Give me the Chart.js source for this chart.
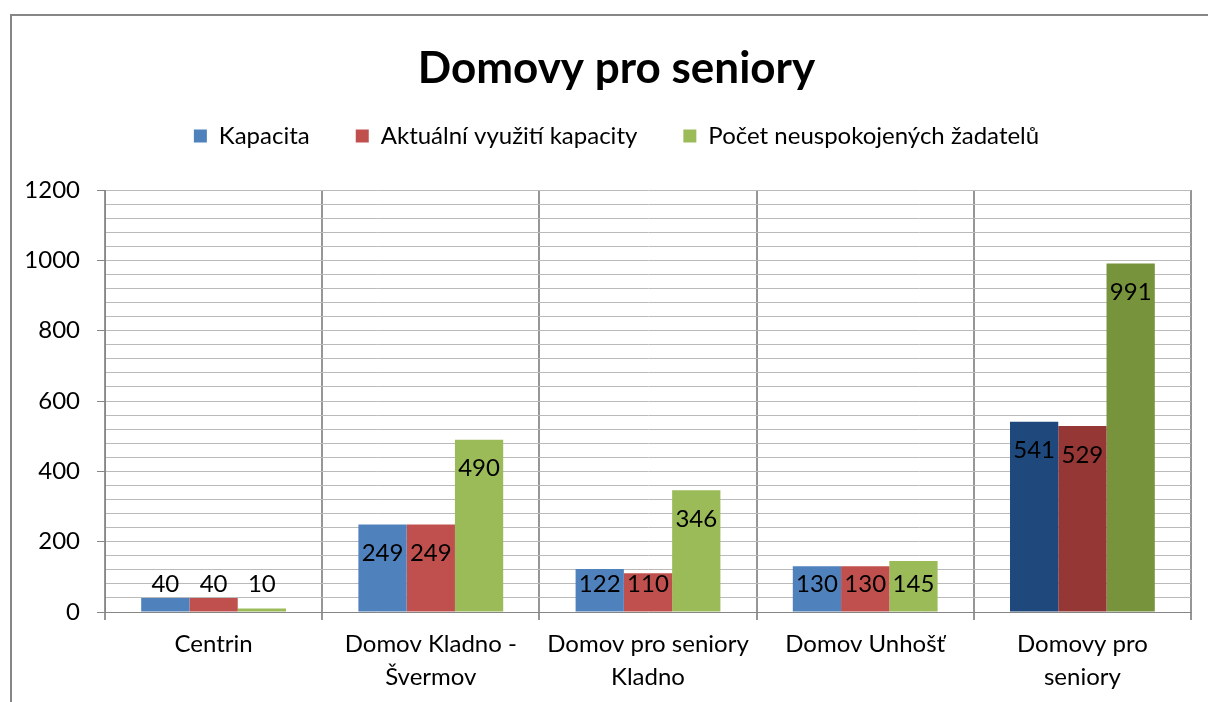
<!DOCTYPE html>
<html>
<head>
<meta charset="utf-8">
<script src="https://cdn.jsdelivr.net/npm/chart.js@4/dist/chart.umd.min.js"></script>
<style>
  html, body { margin: 0; padding: 0; background: #ffffff; }
  #wrap { position: relative; width: 1208px; height: 702px; }
</style>
</head>
<body>
<div id="wrap"><canvas id="c" width="1208" height="702"></canvas></div>
<script>
const chartTitle = "Domovy pro seniory";
const categories = [
  ["Centrin"],
  ["Domov Kladno -", "Švermov"],
  ["Domov pro seniory", "Kladno"],
  ["Domov Unhošť"],
  ["Domovy pro", "seniory"]
];
const seriesNames = ["Kapacita", "Aktuální využití kapacity", "Počet neuspokojených žadatelů"];
const kapacita = [40, 249, 122, 130, 541];
const vyuziti = [40, 249, 110, 130, 529];
const neuspokojeni = [10, 490, 346, 145, 991];
const yMin = 0;
const yMax = 1200;
const yMajorStep = 200;
const yMinorStep = 40;

const baseColors = ["#4F81BD", "#C0504D", "#9BBB59"];
const darkColors = ["#1F497D", "#953735", "#77933C"];
const totalIndex = 4;

const FONT = "Lato, 'Open Sans', sans-serif";

function colorFor(i) {
  return ctx => (ctx.dataIndex === totalIndex ? darkColors[i] : baseColors[i]);
}

const frame = {
  id: 'frame',
  beforeDraw(chart) {
    const c = chart.ctx;
    c.save();
    c.strokeStyle = '#868686';
    c.lineWidth = 2;
    c.beginPath();
    c.moveTo(11, 710);
    c.lineTo(11, 15);
    c.lineTo(1215, 15);
    c.stroke();
    c.restore();
  }
};

const legendSpacer = {
  id: 'legendSpacer',
  beforeInit(chart) {
    const lg = chart.legend;
    if (!lg) return;
    const orig = lg.fit;
    lg.fit = function () { orig.call(this); this.height = 112; };
  },
  afterLayout(chart) {
    const shift = 21;
    [chart.titleBlock, chart.legend].forEach(b => {
      if (b) { b.left += shift; b.right += shift; }
    });
  }
};

const valueLabels = {
  id: 'valueLabels',
  afterDatasetsDraw(chart) {
    const c = chart.ctx;
    c.save();
    c.font = "24px " + FONT;
    c.fillStyle = '#000';
    c.textAlign = 'center';
    c.textBaseline = 'middle';
    chart.data.datasets.forEach((ds, di) => {
      const meta = chart.getDatasetMeta(di);
      meta.data.forEach((bar, i) => {
        const y = Math.min(bar.y + 29, bar.base - 27);
        c.fillText(String(ds.data[i]), bar.x, y);
      });
    });
    c.restore();
  }
};

new Chart(document.getElementById('c'), {
  type: 'bar',
  data: {
    labels: categories,
    datasets: [
      { label: seriesNames[0], data: kapacita, backgroundColor: colorFor(0) },
      { label: seriesNames[1], data: vyuziti, backgroundColor: colorFor(1) },
      { label: seriesNames[2], data: neuspokojeni, backgroundColor: colorFor(2) }
    ]
  },
  options: {
    responsive: false,
    animation: false,
    devicePixelRatio: 1,
    layout: { padding: { top: 14, left: 0, right: 17, bottom: 0 } },
    datasets: { bar: { barPercentage: 1, categoryPercentage: 0.6667, borderWidth: 0 } },
    plugins: {
      title: {
        display: true,
        text: chartTitle,
        color: '#000',
        font: { family: FONT, size: 44, weight: 'bold', lineHeight: 1.0 },
        padding: { top: 33, bottom: -13 }
      },
      legend: {
        display: true,
        position: 'top',
        labels: {
          color: '#000',
          font: { family: FONT, size: 24 },
          boxWidth: 13,
          boxHeight: 13,
          padding: 46
        }
      },
      tooltip: { enabled: false }
    },
    scales: {
      x: {
        grid: {
          offset: true,
          color: '#969696',
          tickColor: '#969696',
          tickLength: 8,
          lineWidth: 2
        },
        border: { color: '#868686', width: 1 },
        ticks: {
          color: '#000',
          font: { family: FONT, size: 24, lineHeight: 1.375 },
          padding: 8,
          maxRotation: 0,
          autoSkip: false
        },
        afterFit(scale) { scale.height = 90; }
      },
      y: {
        min: yMin,
        max: yMax,
        grid: {
          color: '#BABABA',
          lineWidth: 1,
          tickLength: 8,
          tickColor: ctx => (ctx.tick && ctx.tick.value % yMajorStep === 0 ? '#868686' : 'rgba(0,0,0,0)')
        },
        border: { color: '#868686', width: 1 },
        ticks: {
          stepSize: yMinorStep,
          color: '#000',
          font: { family: FONT, size: 24 },
          padding: 17,
          autoSkip: false,
          callback: v => (v % yMajorStep === 0 ? String(v) : '')
        },
        afterFit(scale) { scale.width = 105; }
      }
    }
  },
  plugins: [frame, legendSpacer, valueLabels]
});
</script>
</body>
</html>
